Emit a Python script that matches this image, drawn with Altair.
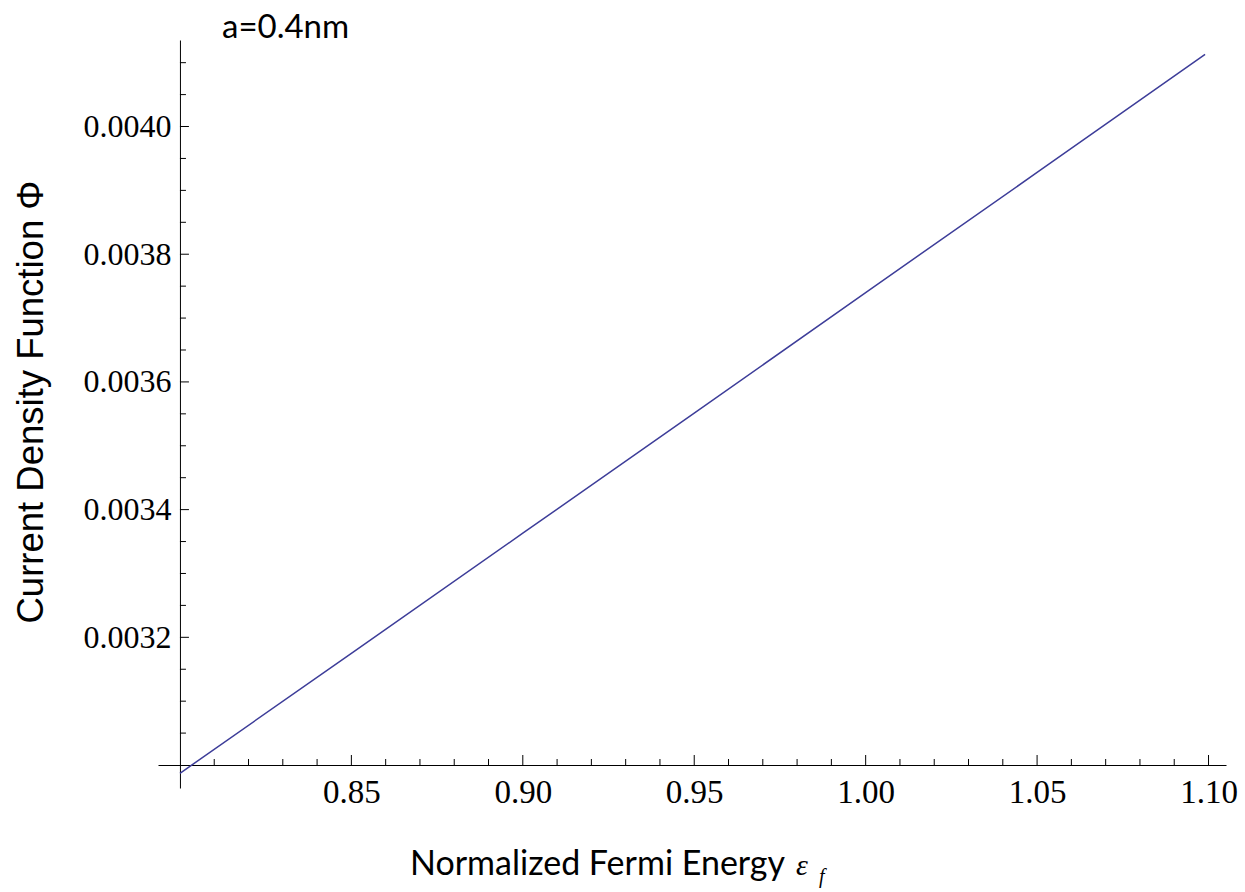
import altair as alt
import pandas as pd

# Current density function vs normalized Fermi energy (a = 0.4 nm)
energy = [0.80, 0.85, 0.90, 0.95, 1.00, 1.05, 1.099]
phi = [0.002987, 0.003175, 0.003363, 0.003551, 0.003740, 0.003928, 0.004113]

x_major = [0.85, 0.90, 0.95, 1.00, 1.05, 1.10]
y_major = [0.0032, 0.0034, 0.0036, 0.0038, 0.0040]
x_minor = [round(0.80 + 0.01 * i, 2) for i in range(1, 31)]
x_minor = [v for v in x_minor if all(abs(v - m) > 1e-9 for m in x_major)]
y_minor = [round(0.0030 + 0.00005 * i, 5) for i in range(1, 23)]
y_minor = [v for v in y_minor if all(abs(v - m) > 1e-9 for m in y_major)]

x_dom = [0.7936, 1.1051]
y_dom = [0.002964, 0.0041355]
x_origin = 0.80
y_origin = 0.0030

W, H = 1068, 748
x_off = -(y_origin - y_dom[0]) / (y_dom[1] - y_dom[0]) * H
y_off = -(x_origin - x_dom[0]) / (x_dom[1] - x_dom[0]) * W

LINE = "#3d3d99"
SERIF = "Liberation Serif"
SANS = "Lato"

xs = alt.Scale(domain=x_dom, nice=False, zero=False)
ys = alt.Scale(domain=y_dom, nice=False, zero=False)

x_axis = alt.Axis(
    values=x_major, format=".2f", labelFont=SERIF, labelFontSize=33,
    labelColor="black", ticks=False, tickSize=0, domainColor="black",
    domainWidth=1, domainOpacity=1, grid=False, title=None, offset=x_off,
    labelPadding=11, labelFlush=False)
y_axis = alt.Axis(
    values=y_major, format=".4f", labelFont=SERIF, labelFontSize=32,
    labelColor="black", ticks=False, tickSize=0, domainColor="black",
    domainWidth=1, domainOpacity=1, grid=False, title=None, offset=y_off,
    labelPadding=9, labelFlush=False)

df = pd.DataFrame({"energy": energy, "phi": phi})

line = alt.Chart(df).mark_line(color=LINE, strokeWidth=1.5, clip=True).encode(
    x=alt.X("energy:Q", scale=xs, axis=x_axis),
    y=alt.Y("phi:Q", scale=ys, axis=y_axis),
)

def xticks(vals, size):
    return alt.Chart(pd.DataFrame({"v": vals})).mark_tick(
        orient="vertical", size=size, thickness=1, color="black", opacity=1,
        yOffset=-size / 2
    ).encode(x=alt.X("v:Q", scale=xs, axis=x_axis),
             y=alt.Y(datum=y_origin, scale=ys, axis=y_axis))

def yticks(vals, size):
    return alt.Chart(pd.DataFrame({"v": vals})).mark_tick(
        orient="horizontal", size=size, thickness=1, color="black", opacity=1,
        xOffset=size / 2
    ).encode(y=alt.Y("v:Q", scale=ys, axis=y_axis),
             x=alt.X(datum=x_origin, scale=xs, axis=x_axis))

def label(text, x, y, font, size, angle=0, style="normal", align="left"):
    return alt.Chart(pd.DataFrame({"t": [text]})).mark_text(
        font=font, fontSize=size, angle=angle, fontStyle=style, align=align,
        baseline="alphabetic", color="black"
    ).encode(text="t:N", x=alt.value(x), y=alt.value(y))

chart = alt.layer(
    line,
    xticks(x_major, 10), xticks(x_minor, 6),
    yticks(y_major, 9), yticks(y_minor, 6),
    label("a=0.4nm", 64, -2, SANS, 33),
    label("Normalized Fermi Energy", 252, 835, SANS, 34),
    label("ε", 638, 835, SERIF, 30, style="italic"),
    label("f", 661, 843, SERIF, 20, style="italic"),
    label("Current Density Function Φ", -115, 362, "Liberation Sans", 36.5, angle=270, align="center"),
).properties(
    width=W, height=H,
    autosize=alt.AutoSizeParams(type="none"),
    padding={"left": 158, "top": 40, "right": 19, "bottom": 104},
    background="white",
).configure_view(stroke=None)

chart.save("out.html", embed_options={"renderer": "svg", "actions": False})
